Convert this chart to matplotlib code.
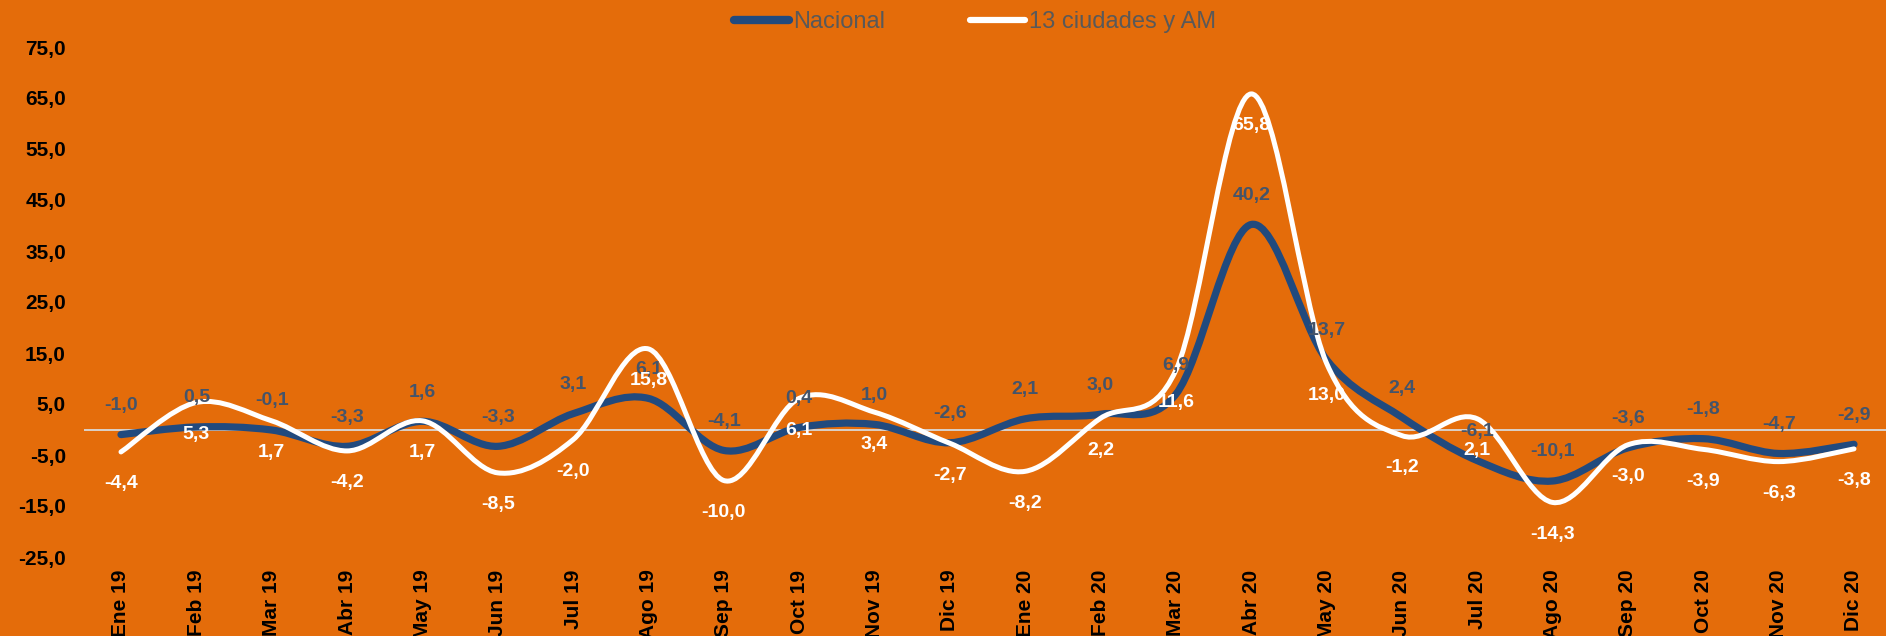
import matplotlib
matplotlib.use('Agg')
import matplotlib.pyplot as plt
from matplotlib.path import Path
from matplotlib.patches import PathPatch
from matplotlib.lines import Line2D

# Data
meses = ['Ene 19', 'Feb 19', 'Mar 19', 'Abr 19', 'May 19', 'Jun 19', 'Jul 19', 'Ago 19',
         'Sep 19', 'Oct 19', 'Nov 19', 'Dic 19', 'Ene 20', 'Feb 20', 'Mar 20', 'Abr 20',
         'May 20', 'Jun 20', 'Jul 20', 'Ago 20', 'Sep 20', 'Oct 20', 'Nov 20', 'Dic 20']
nacional = [-1.0, 0.5, -0.1, -3.3, 1.6, -3.3, 3.1, 6.1, -4.1, 0.4, 1.0, -2.6,
            2.1, 3.0, 6.9, 40.2, 13.7, 2.4, -6.1, -10.1, -3.6, -1.8, -4.7, -2.9]
ciudades = [-4.4, 5.3, 1.7, -4.2, 1.7, -8.5, -2.0, 15.8, -10.0, 6.1, 3.4, -2.7,
            -8.2, 2.2, 11.6, 65.8, 13.0, -1.2, 2.1, -14.3, -3.0, -3.9, -6.3, -3.8]
yticks = [-25, -15, -5, 5, 15, 25, 35, 45, 55, 65, 75]

ORANGE = '#E46C0A'
BLUE = '#214A7E'
LABEL_BLUE = '#44546A'
FONT = 'Liberation Sans'


def smooth_path(x, y):
    # Excel-style smoothed line as cubic Bezier segments
    n = len(x)
    verts = [(x[0], y[0])]
    codes = [Path.MOVETO]
    for i in range(n - 1):
        xp, yp = (x[i - 1], y[i - 1]) if i > 0 else (x[i], y[i])
        xn, yn = (x[i + 2], y[i + 2]) if i + 2 < n else (x[i + 1], y[i + 1])
        c1 = (x[i] + (x[i + 1] - xp) / 6, y[i] + (y[i + 1] - yp) / 6)
        c2 = (x[i + 1] - (xn - x[i]) / 6, y[i + 1] - (yn - y[i]) / 6)
        verts += [c1, c2, (x[i + 1], y[i + 1])]
        codes += [Path.CURVE4] * 3
    return Path(verts, codes)


def fmt(v):
    return f'{v:.1f}'.replace('.', ',')


fig = plt.figure(figsize=(18.86, 6.36), dpi=100, facecolor=ORANGE)
ax = fig.add_axes([84 / 1886, 1 - 557 / 636, 1 - 84 / 1886, 510 / 636])
ax.set_facecolor(ORANGE)

x = list(range(len(meses)))
ax.axhline(0, color='#D9D9D9', lw=1.3, zorder=1)

ax.add_patch(PathPatch(smooth_path(x, nacional), facecolor='none', edgecolor=BLUE,
                       lw=5.2, capstyle='round', joinstyle='round', zorder=2))
ax.add_patch(PathPatch(smooth_path(x, ciudades), facecolor='none', edgecolor='white',
                       lw=3.6, capstyle='round', joinstyle='round', zorder=3))

for xi, v in zip(x, nacional):
    ax.annotate(fmt(v), (xi, v), xytext=(0, 21), textcoords='offset points',
                ha='center', va='center', color=LABEL_BLUE, fontsize=14,
                fontweight='bold', family=FONT, zorder=5)
for xi, v in zip(x, ciudades):
    ax.annotate(fmt(v), (xi, v), xytext=(0, -23), textcoords='offset points',
                ha='center', va='center', color='white', fontsize=14,
                fontweight='bold', family=FONT, zorder=5)

ax.set_xlim(-0.491, 23.425)
ax.set_ylim(-25, 75)
ax.set_yticks(yticks)
ax.set_yticklabels([fmt(t) for t in yticks], fontsize=15, fontweight='bold',
                   family=FONT, color='black')
ax.set_xticks(x)
ax.set_xticklabels(meses, rotation=90, fontsize=15, fontweight='bold',
                   family=FONT, color='black', va='top')
ax.tick_params(length=0)
ax.tick_params(axis='y', pad=13)
ax.tick_params(axis='x', pad=9)
for s in ax.spines.values():
    s.set_visible(False)

handles = [Line2D([], [], color=BLUE, lw=6, solid_capstyle='round'),
           Line2D([], [], color='white', lw=4.5, solid_capstyle='round')]
leg = fig.legend(handles, ['Nacional', '13 ciudades y AM'], loc='center',
                 bbox_to_anchor=(0.517, 0.965), ncol=2, frameon=False,
                 prop={'family': FONT, 'size': 17}, handlelength=2.35,
                 handletextpad=0.15, columnspacing=3.6)
for t in leg.get_texts():
    t.set_color('#595959')

fig.savefig('out.png', dpi=100, facecolor=ORANGE)
